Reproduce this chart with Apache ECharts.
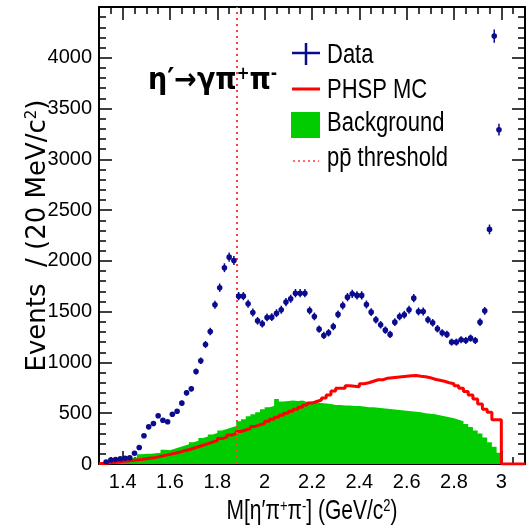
<!DOCTYPE html>
<html><head><meta charset="utf-8">
<script src="https://cdn.jsdelivr.net/npm/echarts@6/dist/echarts.min.js"></script>
<style>html,body{margin:0;padding:0;background:#fff}#c{width:532px;height:529px}</style>
</head><body><div id="c"></div>
<script>
// 20 MeV bins starting at 1.30 GeV
const binStart = 1.30, binWidth = 0.02;
const dataCounts = [null, 20, 40, 45, 51, 57, 61, 106, 163, 278,
 366, 399, 475, 431, 416, 490, 520, 599, 701, 741,
 911, 1016, 1177, 1305, 1568, 1736, 1933, 2037, 2004, 1653,
 1653, 1578, 1492, 1410, 1381, 1443, 1446, 1485, 1519, 1594,
 1627, 1682, 1682, 1682, 1512, 1453, 1328, 1266, 1292, 1354,
 1473, 1561, 1643, 1676, 1660, 1660, 1571, 1495, 1420, 1371,
 1318, 1276, 1397, 1453, 1470, 1519, 1633, 1502, 1502, 1420,
 1391, 1332, 1292, 1276, 1200, 1200, 1223, 1216, 1239, 1216,
 1397, 1508, 2310, 4214, 3292];
const bkgCounts = [0, 10, 35, 50, 55, 60, 60, 65, 95, 100,
 100, 105, 110, 140, 135, 150, 165, 180, 195, 215,
 230, 255, 270, 290, 305, 330, 345, 360, 375, 420,
 440, 470, 490, 510, 540, 560, 570, 640, 615, 620,
 625, 620, 625, 610, 615, 605, 600, 595, 590, 580,
 580, 575, 575, 570, 570, 565, 560, 560, 555, 550,
 545, 540, 535, 530, 525, 520, 515, 510, 500, 495,
 490, 480, 470, 460, 450, 435, 420, 395, 365, 330,
 300, 260, 215, 170, 110];
const mcCounts = [5, 10, 15, 20, 25, 30, 35, 40, 45, 52,
 58, 65, 75, 85, 95, 105, 115, 130, 140, 155,
 170, 185, 200, 215, 230, 250, 265, 285, 300, 320,
 335, 350, 370, 385, 400, 420, 440, 460, 480, 500,
 520, 540, 560, 580, 600, 615, 630, 650, 680, 720,
 745, 745, 770, 765, 760, 790, 800, 815, 830, 830,
 845, 850, 855, 860, 865, 870, 872, 865, 860, 850,
 835, 825, 815, 800, 790, 770, 745, 715, 680, 640,
 590, 540, 510, 435, 435];
const xTickLabels = [1.4, 1.6, 1.8, 2.0, 2.2, 2.4, 2.6, 2.8, 3.0];
const yTickLabels = [0, 500, 1000, 1500, 2000, 2500, 3000, 3500, 4000];
const ppbarThreshold = 1.876;
const xMin = 1.3, xMax = 3.1, yMin = 0, yMax = 4500;

const r2 = v => Math.round(v * 1000) / 1000;
const nBins = dataCounts.length;
const edge = i => r2(binStart + i * binWidth);
const center = i => r2(binStart + (i + 0.5) * binWidth);

const bkgLine = bkgCounts.map((v, i) => [edge(i), v]);
bkgLine.push([edge(nBins), 0]);
const mcLine = mcCounts.map((v, i) => [edge(i), v]);
mcLine.push([edge(nBins), 0]);
mcLine.push([xMax, 0]);
const pts = [];
dataCounts.forEach((v, i) => { if (v !== null) pts.push([center(i), v]); });

const xMinor = [];
for (let k = 0; k <= 36; k++) xMinor.push(r2(xMin + k * 0.05));

const SANS = '"Liberation Sans",Arial,Helvetica,sans-serif';
const COND = '"DejaVu Sans Condensed","Liberation Sans",sans-serif';
const BLUE = '#0b0b8f';
const STRETCH = 1.28;

const xBase = {type: 'value', min: xMin, max: xMax, splitLine: {show: false}, gridIndex: 0};
const axLine = {show: true, lineStyle: {color: '#000', width: 2}};
const xAxes = [
  Object.assign({}, xBase, {position: 'bottom', axisLine: axLine,
    axisTick: {show: true, inside: true, length: 13, customValues: xTickLabels, lineStyle: {color: '#000', width: 1.5}},
    axisLabel: {show: true, customValues: xTickLabels, margin: 8, color: '#000', fontFamily: SANS, fontSize: 20,
      formatter: v => String(v)}}),
  Object.assign({}, xBase, {position: 'bottom', axisLine: {show: false},
    axisTick: {show: true, inside: true, length: 7, customValues: xMinor, lineStyle: {color: '#000', width: 1.5}},
    axisLabel: {show: false}}),
  Object.assign({}, xBase, {position: 'top', axisLine: axLine,
    axisTick: {show: true, inside: true, length: 13, customValues: xTickLabels, lineStyle: {color: '#000', width: 1.5}},
    axisLabel: {show: false}}),
  Object.assign({}, xBase, {position: 'top', axisLine: {show: false},
    axisTick: {show: true, inside: true, length: 7, customValues: xMinor, lineStyle: {color: '#000', width: 1.5}},
    axisLabel: {show: false}})
];
const yBase = {type: 'value', min: yMin, max: yMax, interval: 500, splitLine: {show: false},
  minorTick: {show: true, splitNumber: 5, length: 7, lineStyle: {color: '#000', width: 1.5}},
  axisTick: {show: true, inside: true, length: 13, lineStyle: {color: '#000', width: 1.5}}};
const yAxes = [
  Object.assign({}, yBase, {position: 'left', axisLine: axLine,
    axisLabel: {show: true, customValues: yTickLabels, margin: 7, color: '#000', fontFamily: SANS, fontSize: 20,
      formatter: v => String(v)},
    name: 'Events  / (20 MeV/c{sup|2})', nameLocation: 'middle', nameGap: 48, nameRotate: 90,
    nameMoveOverlap: false,
    nameTextStyle: {color: '#000', fontFamily: '"DejaVu Sans",sans-serif', fontSize: 26,
      rich: {sup: {fontFamily: '"DejaVu Sans",sans-serif', fontSize: 15, verticalAlign: 'top', color: '#000'}}}}),
  Object.assign({}, yBase, {position: 'right', axisLine: axLine, axisLabel: {show: false}})
];

const legendText = (txt, y) => ({type: 'text', z: 20, x: 327, y: y, scaleY: STRETCH,
  style: {x: 0, y: 0, text: txt, fill: '#000', font: '22px ' + SANS, verticalAlign: 'middle'}});

const chart = echarts.init(document.getElementById('c'), null, {renderer: 'canvas'});
chart.setOption({
  animation: false,
  backgroundColor: '#fff',
  grid: {left: 99, right: 7, top: 7, bottom: 65, outerBoundsMode: 'none', containLabel: false},
  xAxis: xAxes,
  yAxis: yAxes,
  series: [
    {type: 'line', name: 'Background', data: bkgLine, step: 'end', showSymbol: false, symbol: 'none',
     lineStyle: {width: 0, color: '#00cc00'}, itemStyle: {color: '#00cc00'},
     areaStyle: {color: '#00cc00', opacity: 1}, z: 2},
    {type: 'line', name: 'PHSP MC', data: mcLine, step: 'end', showSymbol: false, symbol: 'none',
     lineStyle: {width: 3, color: '#ff0000'}, itemStyle: {color: '#ff0000'}, z: 3},
    {type: 'custom', name: 'Data', data: pts, z: 5, clip: true,
     encode: {x: 0, y: 1},
     renderItem: function (params, api) {
       const x = api.value(0), y = api.value(1);
       const p = api.coord([x, y]);
       const e = Math.sqrt(y);
       const t = api.coord([x, y + e]), b = api.coord([x, y - e]);
       return {type: 'group', children: [
         {type: 'line', shape: {x1: p[0], y1: t[1], x2: p[0], y2: b[1]}, style: {stroke: BLUE, lineWidth: 1.5}},
         {type: 'circle', shape: {cx: p[0], cy: p[1], r: 2.8}, style: {fill: BLUE}}
       ]};
     },
     markLine: {silent: true, symbol: 'none', label: {show: false},
       lineStyle: {color: '#ff3b3b', type: [2, 4], width: 2},
       data: [{xAxis: ppbarThreshold}]}}
  ],
  graphic: [
    {type: 'text', left: 148, top: 66, z: 20,
     style: {text: 'η′→γπ{sup|+}π{sup|-}', fill: '#000', font: 'bold 30px ' + COND,
       rich: {sup: {fontSize: 17, fontWeight: 'bold', fontFamily: COND, verticalAlign: 'top', fill: '#000'}}}},
    // x-axis title
    {type: 'text', z: 20, x: 312, y: 512, scaleY: STRETCH,
     style: {x: 0, y: 0, text: 'M[η′π{sup|+}π{sup|-}] (GeV/c{sup|2})', fill: '#000', font: '21px ' + SANS,
       align: 'center', verticalAlign: 'middle',
       rich: {sup: {fontSize: 13, fontFamily: SANS, verticalAlign: 'top', fill: '#000'}}}},
    // legend
    {type: 'line', z: 20, shape: {x1: 292, y1: 53, x2: 320, y2: 53}, style: {stroke: BLUE, lineWidth: 2.5}},
    {type: 'line', z: 20, shape: {x1: 306, y1: 43, x2: 306, y2: 65}, style: {stroke: BLUE, lineWidth: 2.5}},
    legendText('Data', 55.5),
    {type: 'line', z: 20, shape: {x1: 292, y1: 89, x2: 320, y2: 89}, style: {stroke: '#ff0000', lineWidth: 3}},
    legendText('PHSP MC', 90.5),
    {type: 'rect', z: 20, shape: {x: 291, y: 112, width: 29, height: 26}, style: {fill: '#00cc00'}},
    legendText('Background', 123.5),
    {type: 'line', z: 20, shape: {x1: 293, y1: 161, x2: 319, y2: 161}, style: {stroke: '#ff3b3b', lineWidth: 1.5, lineDash: [2, 3]}},
    legendText('pp\u0304 threshold', 158.5)
  ]
});
</script>
</body></html>
